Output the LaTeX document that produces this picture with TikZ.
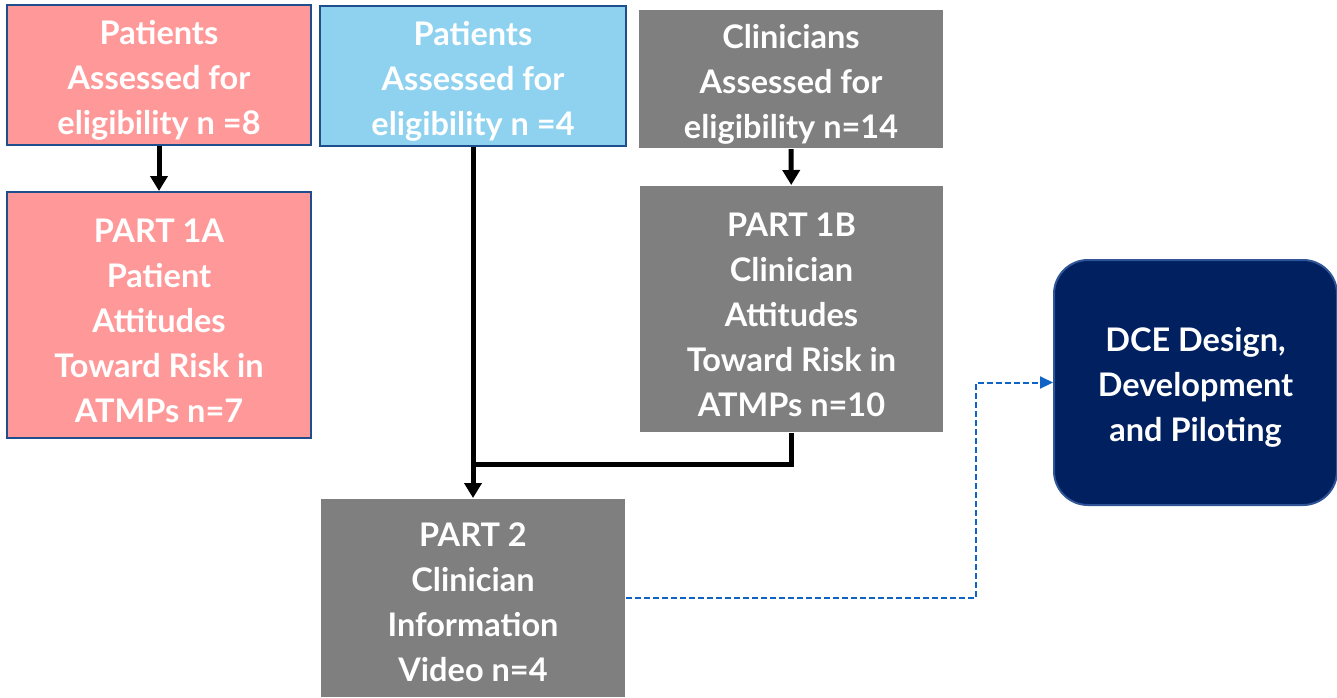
\documentclass[tikz,border=0pt]{standalone}
\usepackage{fontspec}
\setmainfont{Lato}
\usetikzlibrary{arrows.meta}
\definecolor{pinkfill}{HTML}{FF9999}
\definecolor{bluefill}{HTML}{8ED2F0}
\definecolor{grayfill}{HTML}{7F7F7F}
\definecolor{boxborder}{HTML}{1F4E8C}
\definecolor{navyfill}{HTML}{002060}
\definecolor{navyborder}{HTML}{2F5597}
\definecolor{dashblue}{HTML}{0E63C4}
\tikzset{
  boxtext/.style={inner sep=0pt, align=center, text=white,
    font=\fontsize{32.5}{45}\selectfont\bfseries},
  box/.style={inner sep=0pt, line width=2pt},
  pinkbox/.style={box, fill=pinkfill, draw=boxborder},
  bluebox/.style={box, fill=bluefill, draw=boxborder},
  graybox/.style={box, fill=grayfill},
  navybox/.style={box, fill=navyfill, draw=navyborder, rounded corners=34pt},
  conn/.style={line width=5pt, draw=black},
  arr/.style={conn, -{Triangle[length=15pt,width=17pt]}},
  dashconn/.style={line width=2pt, draw=dashblue, dash pattern=on 6pt off 3pt,
    -{Triangle[length=13pt,width=12pt]}}
}
\begin{document}
\begin{tikzpicture}[x=1pt,y=-1pt]
\useasboundingbox (0,0) rectangle (1337,697);
\node[pinkbox, minimum width=304pt, minimum height=140pt,
  label={[boxtext,yshift=-5pt]center:{Patients\\Assessed for\\eligibility n =8}}] (A) at (159,75) {};
\node[bluebox, minimum width=306pt, minimum height=140pt,
  label={[boxtext,yshift=-5pt]center:{Patients\\Assessed for\\eligibility n =4}}] (B) at (473,76) {};
\node[graybox, minimum width=304pt, minimum height=138pt,
  label={[boxtext,yshift=-5pt]center:{Clinicians\\Assessed for\\eligibility n=14}}] (C) at (791,79) {};
\node[pinkbox, minimum width=304pt, minimum height=246pt,
  label={[boxtext,yshift=-6pt]center:{PART 1A\\Patient\\Attitudes\\Toward Risk in\\ATMPs n=7}}] (A1) at (159,315) {};
\node[graybox, minimum width=303pt, minimum height=246pt,
  label={[boxtext,yshift=-6pt]center:{PART 1B\\Clinician\\Attitudes\\Toward Risk in\\ATMPs n=10}}] (B1) at (791.5,309) {};
\node[graybox, minimum width=304pt, minimum height=198pt,
  label={[boxtext,yshift=-4pt]center:{PART 2\\Clinician\\Information\\Video n=4}}] (P2) at (473,598) {};
\node[navybox, minimum width=283pt, minimum height=245pt,
  label={[boxtext,yshift=-5pt]center:{DCE Design,\\Development\\and Piloting}}] (D) at (1195.5,382.5) {};
\coordinate (J) at (473,464);
\coordinate (bend) at (976,598);
\draw[arr] (A) -- (A1);
\draw[arr] (C) -- (B1);
\draw[arr] (B) -- (P2);
\draw[conn] (B1.south) |- (J);
\draw[dashconn] (P2.east) -- (bend) |- (D.west);
\end{tikzpicture}
\end{document}
